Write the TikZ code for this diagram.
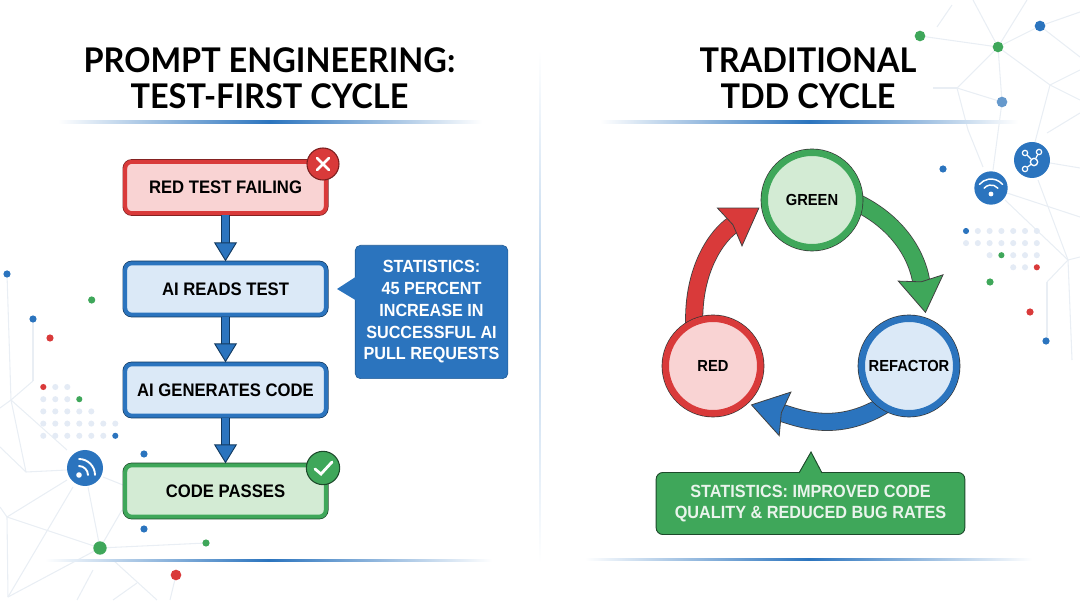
\documentclass[tikz,border=0pt]{standalone}
\usepackage{fontspec}
\setmainfont[FakeStretch=0.92]{Liberation Sans}
\newfontfamily\titlefont[FakeStretch=0.955]{Lato}
\usetikzlibrary{arrows.meta,backgrounds}

\definecolor{flowblue}{HTML}{2B74BE}
\definecolor{flowdark}{HTML}{12395F}
\definecolor{paleblue}{HTML}{DBE9F7}
\definecolor{ringred}{HTML}{D93A3A}
\definecolor{palered}{HTML}{F9D3D3}
\definecolor{darkred}{HTML}{7A1F1F}
\definecolor{ringgreen}{HTML}{3FA75A}
\definecolor{palegreen}{HTML}{D3EBD4}
\definecolor{darkgreen}{HTML}{1D4A2B}
\definecolor{netgrey}{HTML}{E9EEF4}
\definecolor{gridgrey}{HTML}{E4EBF5}
\definecolor{softblue}{HTML}{6699CC}
\definecolor{softwhite}{HTML}{EAF4EC}

\tikzset{
  titletext/.style={font=\titlefont\bfseries\fontsize{25.5pt}{27pt}\selectfont,align=center},
  stepbox/.style n args={3}{draw=#1,fill=#2,line width=3pt,rounded corners=5pt,
    minimum width=150.5pt,minimum height=38.5pt,
    preaction={draw=#3,line width=4pt},font=\bfseries\fontsize{13.6pt}{15pt}\selectfont},
  ringnode/.style n args={3}{circle,draw=#1,fill=#2,line width=5pt,minimum size=71pt,inner sep=0pt,
    preaction={draw=black!80,line width=6pt},font=\bfseries\fontsize{12pt}{14pt}\selectfont},
  badge/.style={circle,draw=#1,line width=.8pt,minimum size=24pt,inner sep=0pt},
  flowarrow/.style={draw=flowdark,double=flowblue,line width=.7pt,double distance=5.4pt,
    -{Triangle[length=14.25pt,width=17.25pt,fill=flowblue,line width=.7pt]}},
  cyclearrow/.style 2 args={draw=black!75,double=#1,line width=.6pt,double distance=12.3pt,shorten >=#2,
    -{Stealth[length=27pt,width=35pt,inset=3pt,fill=#1,line width=.6pt]}},
  rulefade/.style={left color=white,right color=white,middle color=flowblue},
  netline/.style={draw=netgrey,line width=.8pt},
  dotnode/.style={circle,fill=#1,inner sep=0pt,minimum size=5.4pt},
  griddot/.style={circle,fill=#1,inner sep=0pt,minimum size=4.6pt},
  iconnode/.style={circle,fill=flowblue,inner sep=0pt},
  iconline/.style={draw=white,line width=1.1pt,line cap=round},
  mark dot/.style={circle,fill=white,inner sep=0pt,minimum size=#1}
}

\begin{document}
\begin{tikzpicture}[x=0.75pt,y=0.75pt]
    \useasboundingbox (0,0) rectangle (1080,603);

    % network in the corners
    \foreach \n/\x/\y in {l1/7/329,l2/33/284,l3/33/222,l4/11/203,l5/0/195,l6/26/131,l7/67/153,l8/67/133,
        l9/0/156,l10/7/86,l11/67/123,l12/100/55,l13/0/96,l14/8/6,l15/88/116,l16/206/60,l17/122/93,l18/73/116,
        l19/103/126,l20/123/118,l21/113/43,l22/157/3,l23/137/20,l24/113/3,l25/93/33,l26/77/3,l27/176/28,l28/170/3,
        r1/920/567,r2/998/556,r3/1040/577,r4/973/603,r5/1027/603,r6/957/515,r7/1002/501,r8/1050/518,
        r9/1080/591,r10/1080/546,r11/937/576,r12/952/598,r13/933/515,r14/993/433,r15/968/473,r16/983/436,
        r17/1080/533,r18/1080/503,r19/1035/461,r21/1080/435,r22/1047/470,r23/1080/490,r24/1038/423,r25/1068/343,
        r26/1007/410,r27/1080/386,r28/1005/403,r29/1080/346,r30/1047/321,r31/1072/243,r32/1047/263,r33/1050/440}
        \coordinate (\n) at (\x,\y);
    \foreach \a/\b in {l1/l4,l2/l3,l3/l4,l4/l5,l4/l6,l4/l7,l6/l8,l6/l9,l10/l11,l10/l12,l10/l13,l10/l14,l12/l15,
        l12/l16,l12/l17,l12/l14,l18/l14,l19/l20,l21/l22,l23/l24,l25/l26,l27/l28,
        r1/r2,r2/r3,r2/r4,r2/r5,r2/r6,r2/r7,r2/r8,r3/r9,r3/r10,r11/r12,r13/r6,r6/r7,r7/r14,r6/r15,r15/r16,
        r8/r17,r8/r18,r8/r19,r33/r21,r22/r23,r24/r25,r26/r27,r28/r25,r25/r29,r25/r30,r25/r31,r30/r32}
        \draw[netline] (\a) -- (\b);

    % dot grids
    \foreach \col/\row/\c [count=\n] in {0/0/ringred,1/0/gridgrey,2/0/gridgrey,0/1/gridgrey,1/1/gridgrey,2/1/gridgrey,3/1/ringgreen,
        0/2/gridgrey,1/2/gridgrey,2/2/gridgrey,3/2/gridgrey,4/2/gridgrey,
        0/3/gridgrey,1/3/gridgrey,2/3/gridgrey,3/3/gridgrey,4/3/gridgrey,5/3/gridgrey,6/3/gridgrey,
        0/4/gridgrey,1/4/gridgrey,2/4/gridgrey,3/4/gridgrey,4/4/gridgrey,5/4/gridgrey,6/4/flowblue}
        \node[griddot=\c] (lgrid\n) at (43.3+12*\col,216-12.2*\row) {};
    \foreach \col/\row/\c [count=\n] in {0/0/flowblue,1/0/gridgrey,2/0/gridgrey,3/0/gridgrey,4/0/gridgrey,5/0/gridgrey,6/0/gridgrey,
        0/1/gridgrey,1/1/gridgrey,2/1/gridgrey,3/1/gridgrey,4/1/gridgrey,5/1/gridgrey,6/1/gridgrey,
        2/2/gridgrey,3/2/ringgreen,4/2/gridgrey,5/2/gridgrey,6/2/gridgrey,4/3/gridgrey,5/3/gridgrey,6/3/ringred}
        \node[griddot=\c] (rgrid\n) at (966+11.8*\col,372-12.1*\row) {};

    % single dots
    \foreach \x/\y/\c/\s [count=\n] in {7/329/flowblue/5.4pt,91.7/303/ringgreen/5.4pt,33/284/flowblue/5.4pt,50/265/ringred/5.4pt,
        144/149/flowblue/5.4pt,144/74/flowblue/5.4pt,100/55/ringgreen/10pt,206/60/ringgreen/5.4pt,176/28/ringred/8pt,
        943/434/flowblue/5.4pt,990/321/ringgreen/5.4pt,1030/291/ringred/5.4pt,1046/262/flowblue/5.4pt,
        920/567/ringgreen/8pt,998/556/ringgreen/8pt,1040/577/flowblue/8pt,1002/501/softblue/8pt}
        \node[dotnode=\c,minimum size=\s] (dot\n) at (\x,\y) {};

    % titles and rules
    \node[titletext] (lefttitle) at (269.5,525) {PROMPT ENGINEERING:\\TEST-FIRST CYCLE};
    \node[titletext] (righttitle) at (808,525) {TRADITIONAL\\TDD CYCLE};
    \shade[rulefade] (58,479.5) rectangle (482,482);
    \shade[rulefade] (600,479.5) rectangle (1018,482);
    \shade[rulefade] (45,41.5) rectangle (492,44);
    \shade[rulefade] (585,42.5) rectangle (1032,45);
    \shade[top color=white,bottom color=white,middle color=paleblue!80!flowblue] (539.3,40) rectangle (540.8,553);

    % flow on the left
    \node[stepbox={ringred}{palered}{darkred}] (failbox) at (225.5,415.5) {RED TEST FAILING};
    \node[stepbox={flowblue}{paleblue}{flowdark}] (readsbox) at (225.5,314) {AI READS TEST};
    \node[stepbox={flowblue}{paleblue}{flowdark}] (codebox) at (225.5,213) {AI GENERATES CODE};
    \node[stepbox={ringgreen}{palegreen}{darkgreen}] (passbox) at (225.5,112) {CODE PASSES};
    \draw[flowarrow] (failbox) -- (readsbox);
    \draw[flowarrow] (readsbox) -- (codebox);
    \draw[flowarrow] (codebox) -- (passbox);

    \node[badge=darkred,fill=ringred] (failbadge) at (323,439) {};
    \draw[iconline,line width=1.9pt] ([shift={(-6,-6)}]failbadge.center) -- ([shift={(6,6)}]failbadge.center);
    \draw[iconline,line width=1.9pt] ([shift={(-6,6)}]failbadge.center) -- ([shift={(6,-6)}]failbadge.center);
    \node[badge=darkgreen,fill=ringgreen,minimum size=25pt] (passbadge) at (323,135) {};
    \draw[iconline,line width=2.1pt] ([shift={(-8,-1)}]passbadge.center) -- ([shift={(-2,-6)}]passbadge.center) -- ([shift={(9,6)}]passbadge.center);

    % statistics boxes
    \node[fill=flowblue,draw=flowblue!80!black,line width=.5pt,rounded corners=4pt,minimum width=114.5pt,minimum height=100pt,
        text=white,align=center,font=\bfseries\fontsize{13.2pt}{16.3pt}\selectfont] (statsblue) at (431.5,291)
        {STATISTICS:\\45 PERCENT\\INCREASE IN\\SUCCESSFUL AI\\PULL REQUESTS};
    \coordinate (bluetip) at (337,314);
    \fill[flowblue] (357,327) -- (bluetip) -- (357,302) -- cycle;

    \node[fill=ringgreen,draw=darkgreen,line width=.7pt,rounded corners=5pt,minimum width=231.5pt,minimum height=46.5pt,
        text=softwhite,align=center,font=\bfseries\fontsize{13.25pt}{16.3pt}\selectfont] (statsgreen) at (810.5,99.5)
        {STATISTICS: IMPROVED CODE\\QUALITY \& REDUCED BUG RATES};
    \coordinate (greentip) at (811,151);
    \draw[fill=ringgreen,draw=darkgreen,line width=.7pt] (799,130) -- (greentip) -- (822,130);

    % cycle on the right
    \node[ringnode={ringgreen}{palegreen}{}] (greennode) at (812,403) {GREEN};
    \node[ringnode={ringred}{palered}{}] (rednode) at (713,237) {RED};
    \node[ringnode={flowblue}{paleblue}{}] (refactornode) at (909,237) {REFACTOR};
    \begin{pgfonlayer}{background}
        \draw[cyclearrow={ringred}{2pt},shorten <=-5pt] (rednode.112) to[out=92,in=213] (greennode.187);
        \draw[cyclearrow={ringgreen}{4pt},shorten <=-5pt] (greennode.-6) to[out=-26,in=98] (refactornode.70);
        \draw[cyclearrow={flowblue}{3pt},shorten <=-5pt] (refactornode.235) to[out=212,in=-15] (rednode.-48);
    \end{pgfonlayer}

    % icons
    \node[iconnode,minimum size=27pt] (rssicon) at (85,135) {};
    \node[mark dot=4.2pt] (rssdot) at (79,128) {};
    \draw[iconline,line width=1.4pt] ([shift={(9,0)}]rssdot.center) arc[start angle=0,end angle=90,radius=9];
    \draw[iconline,line width=1.4pt] ([shift={(16,0)}]rssdot.center) arc[start angle=0,end angle=90,radius=16];

    \node[iconnode,minimum size=25pt] (wifiicon) at (991,415) {};
    \node[mark dot=3.6pt] (wifidot) at (991,409) {};
    \draw[iconline] ([shift={(40:9)}]wifidot.center) arc[start angle=40,end angle=140,radius=9];
    \draw[iconline] ([shift={(40:15)}]wifidot.center) arc[start angle=40,end angle=140,radius=15];

    \node[iconnode,minimum size=27pt] (hubicon) at (1032,443) {};
    \node[circle,draw=white,line width=1pt,inner sep=0pt,minimum size=5.5pt] (hubcentre) at (1034,441) {};
    \foreach \x/\y [count=\n] in {1025/450,1039/451,1025/434} {
        \node[circle,draw=white,line width=.9pt,inner sep=0pt,minimum size=4pt] (hubsat\n) at (\x,\y) {};
        \draw[iconline,line width=.9pt] (hubcentre) -- (hubsat\n);
    }
\end{tikzpicture}
\end{document}
